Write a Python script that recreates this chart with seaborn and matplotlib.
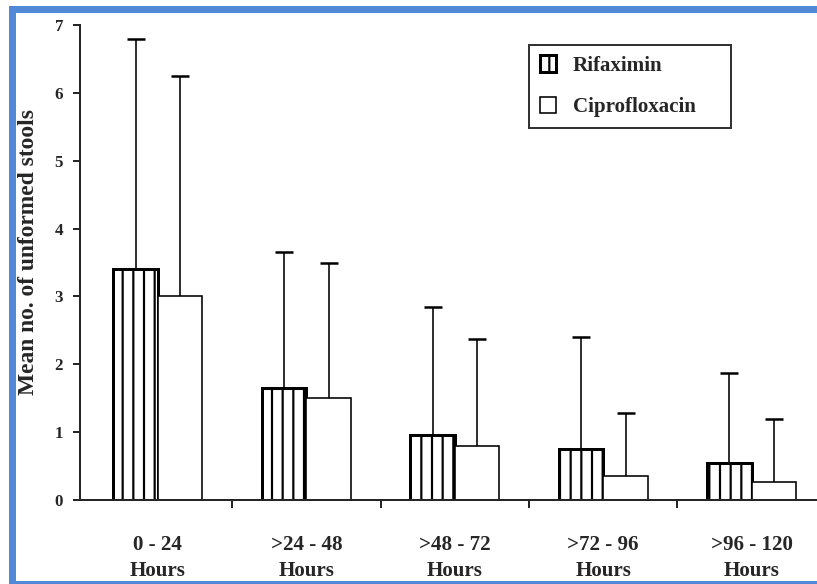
import matplotlib
matplotlib.use("Agg")
import matplotlib.pyplot as plt
import matplotlib.patches as mpatches
import seaborn as sns
import pandas as pd
import numpy as np

# data (mean and upward SD)
periods = ["0 - 24\nHours", ">24 - 48\nHours", ">48 - 72\nHours", ">72 - 96\nHours", ">96 - 120\nHours"]
drugs = ["Rifaximin", "Ciprofloxacin"]
rif_mean = [3.4, 1.65, 0.96, 0.75, 0.54]
rif_sd = [3.4, 2.0, 1.89, 1.65, 1.33]
cip_mean = [3.0, 1.5, 0.8, 0.35, 0.27]
cip_sd = [3.25, 2.0, 1.57, 0.93, 0.93]
yticks = [0, 1, 2, 3, 4, 5, 6, 7]

DPI = 64
def pt(px):
    return px * 72.0 / DPI

sns.set_style("ticks")
plt.rcParams["font.family"] = ["Liberation Serif", "DejaVu Serif"]
plt.rcParams["font.weight"] = "bold"
plt.rcParams["hatch.linewidth"] = pt(2.2)
plt.rcParams["hatch.color"] = "black"

df = pd.DataFrame({
    "period": periods * 2,
    "drug": [drugs[0]] * 5 + [drugs[1]] * 5,
    "mean": rif_mean + cip_mean,
    "sd": rif_sd + cip_sd,
})

fig = plt.figure(figsize=(817 / DPI, 584 / DPI), dpi=DPI)
ax = fig.add_axes([80 / 817, 84 / 584, 737 / 817, 475 / 584])

sns.barplot(data=df, x="period", y="mean", hue="drug", order=periods,
            hue_order=drugs, palette=["white", "white"], width=0.6,
            errorbar=None, edgecolor="black", ax=ax, legend=False)

rif_bars, cip_bars = ax.containers[0], ax.containers[1]
for p in rif_bars:
    p.set_hatch("|")
    p.set_linewidth(pt(3))
    p.set_zorder(2)
for p in cip_bars:
    p.set_linewidth(pt(1.6))
    p.set_zorder(2)

# one-sided (upper) SD whiskers
for bars, m, s in [(rif_bars, rif_mean, rif_sd), (cip_bars, cip_mean, cip_sd)]:
    xs = [p.get_x() + p.get_width() / 2 for p in bars]
    eb = ax.errorbar(xs, m, yerr=[np.zeros(len(s)), s], fmt="none", ecolor="black",
                     elinewidth=pt(1.6), capsize=pt(9), capthick=pt(2.5), zorder=1)
    eb[1][0].set_visible(False)

ax.set_xlim(-0.525, 4.44)
ax.set_ylim(0, 7)
ax.set_yticks(yticks)
ax.set_xlabel("")
ax.set_ylabel("Mean no. of unformed stools", fontsize=pt(23.5), fontweight="bold")
ax.yaxis.set_label_coords(-0.056, 0.522)

sns.despine(ax=ax)
for side in ["left", "bottom"]:
    ax.spines[side].set_linewidth(pt(2))
ax.tick_params(axis="y", length=pt(7), width=pt(2), pad=pt(10), labelsize=pt(17))
ax.tick_params(axis="x", which="major", length=0, pad=pt(35), labelsize=pt(21))
ax.set_xticks([0.5, 1.5, 2.5, 3.5], minor=True)
ax.tick_params(axis="x", which="minor", length=pt(8), width=pt(2), direction="out")
for lab in ax.get_xticklabels():
    lab.set_linespacing(1.4)
    lab.set_fontweight("bold")

leg = ax.legend([rif_bars, cip_bars], drugs, loc="upper left",
                bbox_to_anchor=(529 / 817, 1 - 127 / 584, 202 / 817, 82 / 584),
                bbox_transform=fig.transFigure, mode="expand", borderaxespad=0,
                fontsize=pt(21), frameon=True, fancybox=False,
                handlelength=0.8, handleheight=0.8, handletextpad=0.8,
                labelspacing=1.0, borderpad=0.5)
leg.get_frame().set_edgecolor("black")
leg.get_frame().set_linewidth(pt(2))
for t in leg.get_texts():
    t.set_fontweight("bold")

# blue frame of the screenshot
frame = mpatches.Rectangle((11.5 / 817, 0), 1.1, 1 - 8.5 / 584,
                           transform=fig.transFigure, fill=False,
                           edgecolor="#5189d6", linewidth=pt(7), clip_on=False)
fig.patches.append(frame)

fig.savefig("out.png", dpi=DPI)
